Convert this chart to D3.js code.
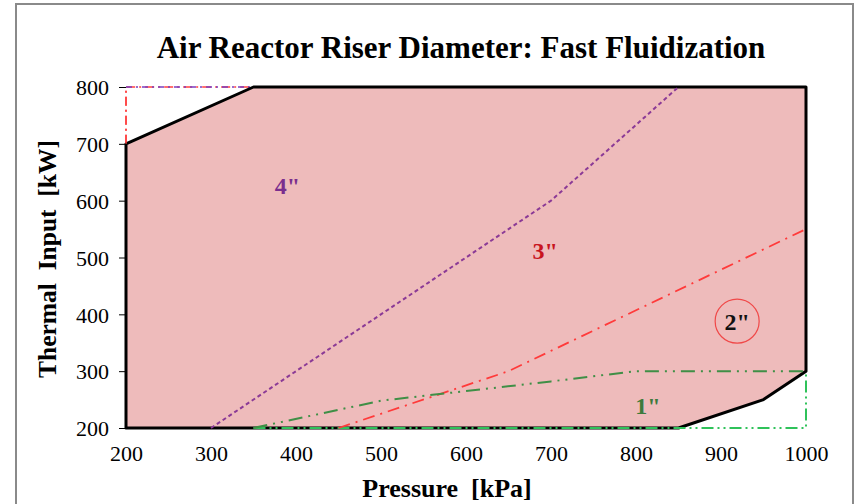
<!DOCTYPE html>
<html>
<head>
<meta charset="utf-8">
<script src="https://cdn.jsdelivr.net/npm/d3@7"></script>
<style>
  body { margin: 0; background: #fff; }
  svg { display: block; font-family: "Liberation Serif", "Times New Roman", serif; }
</style>
</head>
<body>
<svg id="chart" width="855" height="504"></svg>
<script>
// Operating envelope (pressure kPa, thermal input kW)
const envelopeP = [200, 350, 1000, 1000, 950, 850, 200];
const envelopeQ = [700, 800, 800, 300, 250, 200, 200];

// Riser diameter boundary curves
const d4P = [300, 700, 850];
const d4Q = [200, 600, 800];
const d3P = [450, 650, 1000];
const d3Q = [200, 300, 550];
const d1P = [350, 500, 600, 700, 800, 1000];
const d1Q = [200, 248, 265, 282, 300, 300];

// Region outlines along the envelope edges
const cornerP = [200, 200, 350];
const cornerQ = [700, 800, 800];
const boxP = [350, 1000, 1000];
const boxQ = [200, 200, 300];

const xTicks = [200, 300, 400, 500, 600, 700, 800, 900, 1000];
const yTicks = [200, 300, 400, 500, 600, 700, 800];

const labels = [
  { text: '4"', p: 390, q: 627, color: "#7a2e8e" },
  { text: '3"', p: 693, q: 513, color: "#c8141e" },
  { text: '2"', p: 919, q: 388, color: "#111" },
  { text: '1"', p: 814, q: 239, color: "#3d7a3d" }
];

const svg = d3.select("#chart");
const margin = { left: 126, right: 49, top: 87, bottom: 76 };
const W = 855, H = 504;

const x = d3.scaleLinear().domain([200, 1000]).range([margin.left, W - margin.right]);
const y = d3.scaleLinear().domain([200, 800]).range([H - margin.bottom, margin.top]);

const zip = (ps, qs) => ps.map((p, i) => [p, qs[i]]);
const line = d3.line().x(d => x(d[0])).y(d => y(d[1]));

// outer frame
svg.append("rect").attr("x", 16).attr("y", 4).attr("width", 837).attr("height", 510)
  .attr("fill", "none").attr("stroke", "#8a8a8a").attr("stroke-width", 2);

// title
svg.append("text").attr("x", 461).attr("y", 58).attr("text-anchor", "middle")
  .attr("font-size", 31).attr("font-weight", "bold")
  .text("Air Reactor Riser Diameter: Fast Fluidization");

// envelope fill
const env = zip(envelopeP, envelopeQ);
svg.append("path").attr("d", line(env) + "Z")
  .attr("fill", "#eebbbb").attr("stroke", "none");

// dashed outlines
svg.append("path").attr("d", line(zip(cornerP, cornerQ)))
  .attr("fill", "none").attr("stroke", "#ff4040").attr("stroke-width", 1.5)
  .attr("stroke-dasharray", "9,4,2,4");
svg.append("path").attr("d", line([[200, 800], [350, 800]]))
  .attr("fill", "none").attr("stroke", "#7a3fc0").attr("stroke-width", 1.5)
  .attr("stroke-dasharray", "2,4,6,4").attr("stroke-dashoffset", 6);

// envelope border
svg.append("path").attr("d", line(env) + "Z")
  .attr("fill", "none").attr("stroke", "#000").attr("stroke-width", 3)
  .attr("stroke-linejoin", "round");
// left axis segment above 700 is not part of the envelope border
svg.append("line").attr("x1", x(200)).attr("x2", x(200)).attr("y1", y(700)).attr("y2", y(800))
  .attr("stroke", "#ff4040").attr("stroke-width", 1.5).attr("stroke-dasharray", "9,4,2,4");

svg.append("path").attr("d", line(zip(boxP, boxQ)))
  .attr("fill", "none").attr("stroke", "#2fc25a").attr("stroke-width", 2)
  .attr("stroke-dasharray", "12,4,2,4,2,4");

// curves
svg.append("path").attr("d", line(zip(d4P, d4Q)))
  .attr("fill", "none").attr("stroke", "#8b3a96").attr("stroke-width", 2)
  .attr("stroke-dasharray", "4,3");
svg.append("path").attr("d", line(zip(d3P, d3Q)))
  .attr("fill", "none").attr("stroke", "#ff3a3a").attr("stroke-width", 1.8)
  .attr("stroke-dasharray", "12,6,2,6");
svg.append("path").attr("d", line(zip(d1P, d1Q)))
  .attr("fill", "none").attr("stroke", "#3f8f46").attr("stroke-width", 2)
  .attr("stroke-dasharray", "14,6,2,6,2,6");

// axes
const xAxis = d3.axisBottom(x).tickValues(xTicks).tickSize(0).tickPadding(17).tickFormat(d3.format("d"));
const gx = svg.append("g").attr("transform", `translate(0,${y(200)})`).call(xAxis);
gx.select(".domain").remove();
gx.selectAll("text").attr("font-size", 22).attr("fill", "#000")
  .attr("font-family", "Liberation Serif, serif");

const yAxis = d3.axisLeft(y).tickValues(yTicks).tickSize(7).tickPadding(10).tickFormat(d3.format("d"));
const gy = svg.append("g").attr("transform", `translate(${x(200)},0)`).call(yAxis);
gy.select(".domain").remove();
gy.selectAll("line").attr("stroke", "#000").attr("stroke-width", 1);
gy.selectAll("text").attr("font-size", 22).attr("fill", "#000")
  .attr("font-family", "Liberation Serif, serif").attr("dy", "0.35em");

// axis titles
svg.append("text").attr("x", 447).attr("y", 497).attr("text-anchor", "middle")
  .attr("font-size", 26).attr("font-weight", "bold").style("white-space", "pre")
  .text("Pressure  [kPa]");
svg.append("text").attr("transform", "translate(56,259) rotate(-90)")
  .attr("text-anchor", "middle").attr("font-size", 25.5).attr("font-weight", "bold")
  .style("white-space", "pre").text("Thermal  Input  [kW]");

// region labels
labels.forEach(l => {
  svg.append("text").attr("x", x(l.p)).attr("y", y(l.q)).attr("text-anchor", "middle")
    .attr("dy", "0.35em").attr("font-size", 24).attr("font-weight", "bold")
    .attr("fill", l.color).text(l.text);
});
svg.append("circle").attr("cx", x(919)).attr("cy", y(388)).attr("r", 22)
  .attr("fill", "none").attr("stroke", "#f04848").attr("stroke-width", 1.2);
</script>
</body>
</html>
